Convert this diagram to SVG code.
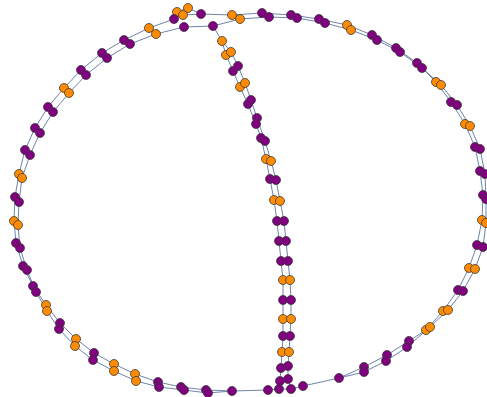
<svg xmlns="http://www.w3.org/2000/svg" width="487" height="397" viewBox="0 0 487 397">
<style>
.e{fill:none;stroke:#6d84ac;stroke-width:1}
.p{fill:#800080;stroke:#3a3a3a;stroke-width:0.8}
.o{fill:#ff8c00;stroke:#3a3a3a;stroke-width:0.8}
</style>
<rect width="487" height="397" fill="#ffffff"/>
<g id="connectors">
<path class="e" d="M201,14 L232,15 L262,13 L291,15 L319,19 L347,25 L372,35 L396,48 L417,63 L436,82 L451,102 L465,124 L475,147 L480,171 L483,195 L482,220 L477,245 L469,268 L458,290 L443,311 L426,330 L409,341 L387,355 L364,367 L339,378"/>
<path class="e" d="M213,26 L240,19 L269,17 L297,18 L325,23 L351,30 L377,40 L400,52 L422,68 L441,85 L457,105 L470,126 L480,149 L485,174 L486,199 L486,223 L483,247 L475,269 L463,291 L448,310 L430,327 L407,347 L386,361 L364,372 L339,378"/>
<path class="e" d="M174,19 L149,28 L124,40 L102,53 L81,70 L64,88 L48,107 L35,128 L25,150 L19,174 L15,197 L14,221 L16,243 L23,266 L33,286 L46,305 L60,323 L76,339 L94,353 L114,364 L135,374 L158,382 L181,387 L206,390 L232,391"/>
<path class="e" d="M213,26 L184,27 L156,34 L130,44 L107,58 L86,75 L69,93 L53,112 L40,133 L30,155 L22,178 L19,202 L18,225 L20,248 L27,270 L36,292 L47,311 L59,329 L75,346 L93,360 L114,371 L136,381 L159,387 L184,390 L208,393 L232,391"/>
<path class="e" d="M222,41 L226,55 L233,71 L240,87 L248,104 L256,124 L261,138 L266,159 L270,179 L274,200 L277,221 L279,241 L281,261 L283,280 L283,300 L283,319 L283,336 L282,352 L281,368 L280,381 L279,389"/>
<path class="e" d="M222,41 L231,52 L238,66 L245,83 L251,100 L257,118 L265,141 L271,161 L276,180 L280,201 L284,221 L286,241 L288,261 L290,280 L291,300 L291,319 L290,336 L289,352 L288,366 L288,379 L291,389"/>
<path class="e" d="M213,26 L222,41 M174,19 L177,12 L188,8 L201,14 M174,19 L183,15 L201,14 M232,391 L268,390 L279,389 L291,389 L303,386 L339,378"/>
</g>
<g id="nodes">
<g id="t1"><circle class="o" cx="177" cy="12" r="4.5"/></g>
<g id="t2"><circle class="o" cx="188" cy="8" r="4.5"/></g>
<g id="t3"><circle class="p" cx="174" cy="19" r="4.5"/></g>
<g id="t4"><circle class="o" cx="183" cy="15" r="4.5"/></g>
<g id="t5"><circle class="p" cx="201" cy="14" r="4.5"/></g>
<g id="t6"><circle class="p" cx="184" cy="27" r="4.5"/></g>
<g id="t7"><circle class="p" cx="213" cy="26" r="4.5"/></g>
<g id="t8"><circle class="o" cx="222" cy="41" r="4.5"/></g>
<g id="ra1"><circle class="o" cx="232" cy="15" r="4.5"/></g>
<g id="rb1"><circle class="o" cx="240" cy="19" r="4.5"/></g>
<g id="ra2"><circle class="p" cx="262" cy="13" r="4.5"/></g>
<g id="rb2"><circle class="p" cx="269" cy="17" r="4.5"/></g>
<g id="ra3"><circle class="p" cx="291" cy="15" r="4.5"/></g>
<g id="rb3"><circle class="p" cx="297" cy="18" r="4.5"/></g>
<g id="ra4"><circle class="p" cx="319" cy="19" r="4.5"/></g>
<g id="rb4"><circle class="p" cx="325" cy="23" r="4.5"/></g>
<g id="ra5"><circle class="o" cx="347" cy="25" r="4.5"/></g>
<g id="rb5"><circle class="o" cx="351" cy="30" r="4.5"/></g>
<g id="ra6"><circle class="p" cx="372" cy="35" r="4.5"/></g>
<g id="rb6"><circle class="p" cx="377" cy="40" r="4.5"/></g>
<g id="ra7"><circle class="p" cx="396" cy="48" r="4.5"/></g>
<g id="rb7"><circle class="p" cx="400" cy="52" r="4.5"/></g>
<g id="ra8"><circle class="p" cx="417" cy="63" r="4.5"/></g>
<g id="rb8"><circle class="p" cx="422" cy="68" r="4.5"/></g>
<g id="ra9"><circle class="o" cx="436" cy="82" r="4.5"/></g>
<g id="rb9"><circle class="o" cx="441" cy="85" r="4.5"/></g>
<g id="ra10"><circle class="p" cx="451" cy="102" r="4.5"/></g>
<g id="rb10"><circle class="p" cx="457" cy="105" r="4.5"/></g>
<g id="ra11"><circle class="o" cx="465" cy="124" r="4.5"/></g>
<g id="rb11"><circle class="o" cx="470" cy="126" r="4.5"/></g>
<g id="ra12"><circle class="p" cx="475" cy="147" r="4.5"/></g>
<g id="rb12"><circle class="p" cx="480" cy="149" r="4.5"/></g>
<g id="ra13"><circle class="p" cx="480" cy="171" r="4.5"/></g>
<g id="rb13"><circle class="p" cx="485" cy="174" r="4.5"/></g>
<g id="ra14"><circle class="p" cx="483" cy="195" r="4.5"/></g>
<g id="rb14"><circle class="p" cx="486" cy="199" r="4.5"/></g>
<g id="ra15"><circle class="o" cx="482" cy="220" r="4.5"/></g>
<g id="rb15"><circle class="o" cx="486" cy="223" r="4.5"/></g>
<g id="ra16"><circle class="p" cx="477" cy="245" r="4.5"/></g>
<g id="rb16"><circle class="p" cx="483" cy="247" r="4.5"/></g>
<g id="ra17"><circle class="o" cx="469" cy="268" r="4.5"/></g>
<g id="rb17"><circle class="o" cx="475" cy="269" r="4.5"/></g>
<g id="ra18"><circle class="p" cx="458" cy="290" r="4.5"/></g>
<g id="rb18"><circle class="p" cx="463" cy="291" r="4.5"/></g>
<g id="ra19"><circle class="o" cx="443" cy="311" r="4.5"/></g>
<g id="rb19"><circle class="o" cx="448" cy="310" r="4.5"/></g>
<g id="ra20"><circle class="o" cx="426" cy="330" r="4.5"/></g>
<g id="rb20"><circle class="o" cx="430" cy="327" r="4.5"/></g>
<g id="ra21"><circle class="p" cx="409" cy="341" r="4.5"/></g>
<g id="rb21"><circle class="p" cx="407" cy="347" r="4.5"/></g>
<g id="ra22"><circle class="p" cx="387" cy="355" r="4.5"/></g>
<g id="rb22"><circle class="p" cx="386" cy="361" r="4.5"/></g>
<g id="ra23"><circle class="p" cx="364" cy="367" r="4.5"/></g>
<g id="rb23"><circle class="p" cx="364" cy="372" r="4.5"/></g>
<g id="b1"><circle class="p" cx="339" cy="378" r="4.5"/></g>
<g id="b2"><circle class="p" cx="303" cy="386" r="4.5"/></g>
<g id="b3"><circle class="p" cx="291" cy="389" r="4.5"/></g>
<g id="b4"><circle class="p" cx="279" cy="389" r="4.5"/></g>
<g id="b5"><circle class="p" cx="268" cy="390" r="4.5"/></g>
<g id="b6"><circle class="p" cx="232" cy="391" r="4.5"/></g>
<g id="la1"><circle class="o" cx="149" cy="28" r="4.5"/></g>
<g id="lb1"><circle class="o" cx="156" cy="34" r="4.5"/></g>
<g id="la2"><circle class="p" cx="124" cy="40" r="4.5"/></g>
<g id="lb2"><circle class="p" cx="130" cy="44" r="4.5"/></g>
<g id="la3"><circle class="p" cx="102" cy="53" r="4.5"/></g>
<g id="lb3"><circle class="p" cx="107" cy="58" r="4.5"/></g>
<g id="la4"><circle class="p" cx="81" cy="70" r="4.5"/></g>
<g id="lb4"><circle class="p" cx="86" cy="75" r="4.5"/></g>
<g id="la5"><circle class="o" cx="64" cy="88" r="4.5"/></g>
<g id="lb5"><circle class="o" cx="69" cy="93" r="4.5"/></g>
<g id="la6"><circle class="p" cx="48" cy="107" r="4.5"/></g>
<g id="lb6"><circle class="p" cx="53" cy="112" r="4.5"/></g>
<g id="la7"><circle class="p" cx="35" cy="128" r="4.5"/></g>
<g id="lb7"><circle class="p" cx="40" cy="133" r="4.5"/></g>
<g id="la8"><circle class="p" cx="25" cy="150" r="4.5"/></g>
<g id="lb8"><circle class="p" cx="30" cy="155" r="4.5"/></g>
<g id="la9"><circle class="o" cx="19" cy="174" r="4.5"/></g>
<g id="lb9"><circle class="o" cx="22" cy="178" r="4.5"/></g>
<g id="la10"><circle class="p" cx="15" cy="197" r="4.5"/></g>
<g id="lb10"><circle class="p" cx="19" cy="202" r="4.5"/></g>
<g id="la11"><circle class="o" cx="14" cy="221" r="4.5"/></g>
<g id="lb11"><circle class="o" cx="18" cy="225" r="4.5"/></g>
<g id="la12"><circle class="p" cx="16" cy="243" r="4.5"/></g>
<g id="lb12"><circle class="p" cx="20" cy="248" r="4.5"/></g>
<g id="la13"><circle class="p" cx="23" cy="266" r="4.5"/></g>
<g id="lb13"><circle class="p" cx="27" cy="270" r="4.5"/></g>
<g id="la14"><circle class="p" cx="33" cy="286" r="4.5"/></g>
<g id="lb14"><circle class="p" cx="36" cy="292" r="4.5"/></g>
<g id="la15"><circle class="o" cx="46" cy="305" r="4.5"/></g>
<g id="lb15"><circle class="o" cx="47" cy="311" r="4.5"/></g>
<g id="la16"><circle class="p" cx="60" cy="323" r="4.5"/></g>
<g id="lb16"><circle class="p" cx="59" cy="329" r="4.5"/></g>
<g id="la17"><circle class="o" cx="76" cy="339" r="4.5"/></g>
<g id="lb17"><circle class="o" cx="75" cy="346" r="4.5"/></g>
<g id="la18"><circle class="p" cx="94" cy="353" r="4.5"/></g>
<g id="lb18"><circle class="p" cx="93" cy="360" r="4.5"/></g>
<g id="la19"><circle class="o" cx="114" cy="364" r="4.5"/></g>
<g id="lb19"><circle class="o" cx="114" cy="371" r="4.5"/></g>
<g id="la20"><circle class="o" cx="135" cy="374" r="4.5"/></g>
<g id="lb20"><circle class="o" cx="136" cy="381" r="4.5"/></g>
<g id="la21"><circle class="p" cx="158" cy="382" r="4.5"/></g>
<g id="lb21"><circle class="p" cx="159" cy="387" r="4.5"/></g>
<g id="la22"><circle class="p" cx="181" cy="387" r="4.5"/></g>
<g id="lb22"><circle class="p" cx="184" cy="390" r="4.5"/></g>
<g id="la23"><circle class="p" cx="206" cy="390" r="4.5"/></g>
<g id="lb23"><circle class="p" cx="208" cy="393" r="4.5"/></g>
<g id="ma1"><circle class="o" cx="226" cy="55" r="4.5"/></g>
<g id="mb1"><circle class="o" cx="231" cy="52" r="4.5"/></g>
<g id="ma2"><circle class="p" cx="233" cy="71" r="4.5"/></g>
<g id="mb2"><circle class="p" cx="238" cy="66" r="4.5"/></g>
<g id="ma3"><circle class="o" cx="240" cy="87" r="4.5"/></g>
<g id="mb3"><circle class="o" cx="245" cy="83" r="4.5"/></g>
<g id="ma4"><circle class="p" cx="248" cy="104" r="4.5"/></g>
<g id="mb4"><circle class="p" cx="251" cy="100" r="4.5"/></g>
<g id="mb5"><circle class="p" cx="257" cy="118" r="4.5"/></g>
<g id="ma5"><circle class="p" cx="256" cy="124" r="4.5"/></g>
<g id="ma6"><circle class="p" cx="261" cy="138" r="4.5"/></g>
<g id="mb6"><circle class="p" cx="265" cy="141" r="4.5"/></g>
<g id="ma7"><circle class="o" cx="266" cy="159" r="4.5"/></g>
<g id="mb7"><circle class="o" cx="271" cy="161" r="4.5"/></g>
<g id="ma8"><circle class="p" cx="270" cy="179" r="4.5"/></g>
<g id="mb8"><circle class="p" cx="276" cy="180" r="4.5"/></g>
<g id="ma9"><circle class="o" cx="274" cy="200" r="4.5"/></g>
<g id="mb9"><circle class="o" cx="280" cy="201" r="4.5"/></g>
<g id="ma10"><circle class="p" cx="277" cy="221" r="4.5"/></g>
<g id="mb10"><circle class="p" cx="284" cy="221" r="4.5"/></g>
<g id="ma11"><circle class="p" cx="279" cy="241" r="4.5"/></g>
<g id="mb11"><circle class="p" cx="286" cy="241" r="4.5"/></g>
<g id="ma12"><circle class="p" cx="281" cy="261" r="4.5"/></g>
<g id="mb12"><circle class="p" cx="288" cy="261" r="4.5"/></g>
<g id="ma13"><circle class="o" cx="283" cy="280" r="4.5"/></g>
<g id="mb13"><circle class="o" cx="290" cy="280" r="4.5"/></g>
<g id="ma14"><circle class="p" cx="283" cy="300" r="4.5"/></g>
<g id="mb14"><circle class="p" cx="291" cy="300" r="4.5"/></g>
<g id="ma15"><circle class="o" cx="283" cy="319" r="4.5"/></g>
<g id="mb15"><circle class="o" cx="291" cy="319" r="4.5"/></g>
<g id="ma16"><circle class="p" cx="283" cy="336" r="4.5"/></g>
<g id="mb16"><circle class="p" cx="290" cy="336" r="4.5"/></g>
<g id="ma17"><circle class="o" cx="282" cy="352" r="4.5"/></g>
<g id="mb17"><circle class="o" cx="289" cy="352" r="4.5"/></g>
<g id="mb18"><circle class="p" cx="288" cy="366" r="4.5"/></g>
<g id="ma18"><circle class="p" cx="281" cy="368" r="4.5"/></g>
<g id="mb19"><circle class="p" cx="288" cy="379" r="4.5"/></g>
<g id="ma19"><circle class="p" cx="280" cy="381" r="4.5"/></g>
</g>
</svg>
